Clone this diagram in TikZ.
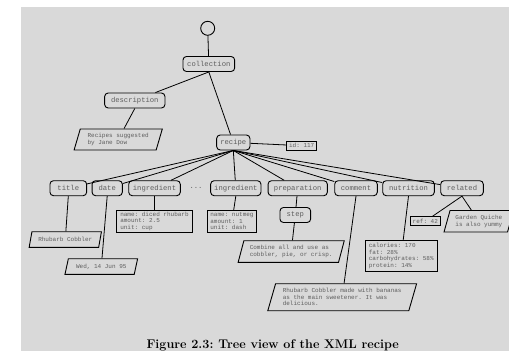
\documentclass[tikz,border=0pt]{standalone}
\usepackage{fontspec}
\setmonofont{Liberation Mono}
\usetikzlibrary{shapes.geometric}
\definecolor{bgcol}{HTML}{D9D9D9}
\definecolor{txtcol}{HTML}{5E5E5E}
\tikzset{
 elem/.style={draw, line width=0.9pt, rounded corners=3.5pt, minimum height=15pt, inner sep=1pt, font=\fontsize{7.2}{8}\ttfamily, text=txtcol},
 datab/.style={draw, line width=0.9pt, inner sep=1pt, align=left, font=\fontsize{6}{6.5}\ttfamily, text=txtcol},
 para/.style={draw, line width=0.9pt, trapezium, trapezium left angle=70, trapezium right angle=110, trapezium stretches=true, inner sep=1pt, align=left, font=\fontsize{6}{6.5}\ttfamily, text=txtcol},
 conn/.style={line width=0.8pt},
}
\begin{document}
\begin{tikzpicture}[x=1pt,y=-1pt]
\useasboundingbox (0,0) rectangle (509,351);
\fill[bgcol] (21,7) rectangle (509,351);
% root and elements
\node[circle, draw, line width=0.9pt, minimum size=14pt, inner sep=0pt] (root) at (207.7,28.3) {};
\node[elem, minimum width=51.7pt] (collection) at (208.8,64) {collection};
\node[elem, minimum width=60.3pt] (description) at (134.8,100.5) {description};
\node[elem, minimum width=33.3pt] (recipe) at (233.3,142.5) {recipe};
\node[datab, minimum width=30pt, minimum height=8.7pt, inner ysep=0pt] (id) at (301.7,145.7) {id: 117};
\node[elem, minimum width=36.7pt] (title) at (68.3,188.2) {title};
\node[elem, minimum width=30.3pt] (date) at (107.2,188.2) {date};
\node[elem, minimum width=51.6pt] (ingA) at (154.5,188.2) {ingredient};
\node[font=\fontsize{7.2}{8}\ttfamily, text=txtcol] (dots) at (196,188.2) {...};
\node[elem, minimum width=50.3pt] (ingB) at (235.8,188.2) {ingredient};
\node[elem, minimum width=59.3pt] (prep) at (297.7,188.2) {preparation};
\node[elem, minimum width=42.6pt] (comment) at (356,188.2) {comment};
\node[elem, minimum width=51.6pt] (nutrition) at (408.5,188.2) {nutrition};
\node[elem, minimum width=42.6pt] (related) at (462,188.2) {related};
\node[elem, minimum width=30.7pt] (step) at (295.3,215) {step};
% data boxes
\node[datab, minimum width=76.4pt, minimum height=22pt] (ingAd) at (154.5,221.3) {name: diced rhubarb\\amount: 2.5\\unit: cup};
\node[datab, minimum width=49.4pt, minimum height=22pt] (ingBd) at (232,221.3) {name: nutmeg\\amount: 1\\unit: dash};
\node[datab, minimum width=72.7pt, minimum height=30.3pt] (nutd) at (401.3,255.8) {calories: 170\\fat: 28\%\\carbohydrates: 58\%\\protein: 14\%};
\node[datab, minimum width=30.7pt, minimum height=9pt, inner ysep=0pt] (ref) at (425.3,221.2) {ref: 42};
% text parallelograms
\node[para, minimum width=88.3pt, minimum height=21pt] (desct) at (118.2,139.5) {Recipes suggested\\by Jane Dow};
\node[para, minimum width=72.7pt, minimum height=15.6pt] (titlet) at (65.3,239.5) {Rhubarb Cobbler};
\node[para, minimum width=72.7pt, minimum height=15.6pt] (datet) at (101.3,266.5) {Wed, 14 Jun 95};
\node[para, minimum width=106.3pt, minimum height=21.6pt] (stept) at (291.2,251.5) {Combine all and use as\\cobbler, pie, or crisp.};
\node[para, minimum width=149pt, minimum height=27pt] (commentt) at (342.2,297.2) {Rhubarb Cobbler made with bananas\\as the main sweetener. It was\\delicious.};
\node[para, minimum width=69.7pt, minimum height=21.5pt, align=center] (relt) at (478.8,221.2) {Garden Quiche\\is also yummy};
% connectors
\draw[conn] (root) -- (collection);
\draw[conn] (collection.south) -- (description);
\draw[conn] (collection.south) -- (recipe);
\draw[conn] (description.south) -- (desct);
\draw[conn] (recipe) -- (id);
\foreach \c in {title,date,ingA,ingB,prep,comment,nutrition,related}
  \draw[conn] (recipe.south) -- (\c);
\draw[conn] (title.south) -- (titlet);
\draw[conn] (date.south) -- (datet);
\draw[conn] (ingA) -- (ingAd);
\draw[conn] (ingB.south) -- (ingBd);
\draw[conn] (prep) -- (step);
\draw[conn] (step) -- (stept);
\draw[conn] (comment.south) -- (commentt);
\draw[conn] (nutrition.south) -- (nutd);
\draw[conn] (related.south) -- (ref);
\draw[conn] (related.south) -- (relt);
% caption
\node[anchor=base, inner sep=0pt, font=\fontsize{12.6}{14}\selectfont\bfseries] (caption) at (272.7,348.4) {Figure 2.3:\hspace{0.4em}Tree view of the XML recipe};
\end{tikzpicture}
\end{document}
